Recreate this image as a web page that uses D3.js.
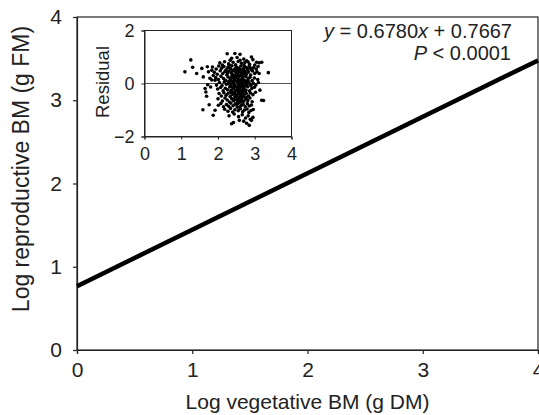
<!DOCTYPE html>
<html>
<head>
<meta charset="utf-8">
<script src="https://cdn.jsdelivr.net/npm/d3@7"></script>
<style>
body { margin: 0; background: #fff; }
text { font-family: "Liberation Sans", Arial, sans-serif; fill: #222; }
</style>
</head>
<body>
<div id="chart"></div>
<script>
// regression fit
var slope = 0.6780;
var intercept = 0.7667;
var lineX = [0, 4];

var mainTicks = [0, 1, 2, 3, 4];
var insetXTicks = [0, 1, 2, 3, 4];
var insetYTicks = [-2, 0, 2];

// residuals: [log vegetative BM, residual]
var residuals = [
	[1.10,0.44],[1.26,0.89],[1.31,0.61],[1.42,0.38],[1.56,0.57],[1.60,0.25],[1.71,0.63],[1.74,0.44],
	[1.83,0.50],[1.78,0.20],[1.92,0.12],[1.72,-0.05],
	[2.25,1.12],[2.46,1.13],[2.60,1.10],[2.37,0.95],[2.91,1.00],[2.52,0.98],[2.70,0.92],[2.33,0.88],
	[2.78,0.86],[2.95,0.90],[3.05,0.80],
	[2.05,0.78],[2.18,0.82],[2.29,0.74],[2.41,0.80],[2.55,0.83],[2.64,0.76],[2.73,0.79],[2.86,0.72],
	[3.00,0.70],[3.12,0.78],[3.19,0.80],[2.12,0.70],[2.48,0.71],[2.60,0.88],[2.82,0.81],
	[1.85,0.62],[1.95,0.55],[2.02,0.66],[2.10,0.58],[2.16,0.64],[2.22,0.52],[2.27,0.61],[2.34,0.56],
	[2.38,0.67],[2.44,0.53],[2.50,0.62],[2.57,0.58],[2.62,0.66],[2.68,0.54],[2.74,0.63],[2.79,0.57],
	[2.85,0.65],[2.91,0.52],[2.97,0.60],[3.04,0.55],[3.09,0.64],[2.31,0.69],[2.53,0.50],[2.71,0.68],[2.88,0.58],
	[1.90,0.42],[1.98,0.35],[2.06,0.48],[2.13,0.38],[2.19,0.45],[2.24,0.33],[2.30,0.47],[2.36,0.40],
	[2.42,0.31],[2.47,0.44],[2.52,0.36],[2.58,0.49],[2.63,0.39],[2.67,0.30],[2.72,0.46],[2.77,0.35],
	[2.83,0.43],[2.89,0.32],[2.94,0.47],[3.00,0.38],[3.06,0.44],[3.12,0.38],[3.37,0.41],[2.40,0.49],
	[2.55,0.42],[2.65,0.47],[2.80,0.50],[2.26,0.40],[2.49,0.33],[2.74,0.39],
	[1.83,0.13],[1.87,0.30],[1.94,0.22],[2.01,0.15],[2.08,0.27],[2.15,0.19],[2.21,0.11],[2.27,0.25],
	[2.33,0.17],[2.38,0.28],[2.44,0.12],[2.50,0.23],[2.55,0.16],[2.60,0.29],[2.66,0.20],[2.71,0.13],
	[2.76,0.26],[2.82,0.18],[2.87,0.24],[2.93,0.11],[2.99,0.21],[3.08,0.15],[2.41,0.21],[2.58,0.10],
	[2.69,0.27],[2.47,0.26],[2.35,0.09],[2.63,0.14],[2.79,0.08],[2.53,0.29],
	[1.80,-0.13],[1.96,-0.06],[2.04,0.04],[2.11,-0.08],[2.17,0.06],[2.23,-0.03],[2.29,0.07],[2.34,-0.09],
	[2.39,0.02],[2.45,-0.05],[2.51,0.08],[2.56,-0.02],[2.61,0.05],[2.67,-0.07],[2.72,0.03],[2.78,-0.04],
	[2.84,0.06],[2.90,-0.08],[2.96,0.01],[3.03,-0.06],[3.10,0.04],[2.48,-0.10],[2.64,-0.01],[2.42,0.06],
	[2.58,-0.08],[2.75,0.09],[2.31,-0.01],[2.87,-0.02],
	[1.65,-0.19],[1.67,-0.32],[1.99,-0.21],[2.07,-0.15],[2.14,-0.28],[2.20,-0.18],[2.26,-0.24],[2.32,-0.13],
	[2.37,-0.29],[2.43,-0.20],[2.49,-0.27],[2.54,-0.14],[2.59,-0.23],[2.65,-0.30],[2.70,-0.17],[2.76,-0.25],
	[2.81,-0.12],[2.86,-0.28],[2.92,-0.19],[3.14,-0.25],[2.40,-0.16],[2.52,-0.22],[2.62,-0.12],[2.73,-0.29],
	[2.35,-0.27],[2.99,-0.14],
	[1.69,-0.48],[2.03,-0.38],[2.09,-0.47],[2.16,-0.35],[2.22,-0.44],[2.28,-0.37],[2.33,-0.49],[2.39,-0.41],
	[2.44,-0.33],[2.50,-0.46],[2.56,-0.39],[2.61,-0.48],[2.66,-0.34],[2.71,-0.43],[2.77,-0.38],[2.83,-0.47],
	[2.88,-0.36],[2.95,-0.42],[3.02,-0.33],[2.47,-0.40],[2.58,-0.31],[2.69,-0.50],[2.36,-0.34],
	[2.00,-0.58],[2.12,-0.66],[2.19,-0.55],[2.25,-0.62],[2.31,-0.70],[2.37,-0.57],[2.42,-0.65],[2.48,-0.53],
	[2.53,-0.68],[2.59,-0.60],[2.64,-0.54],[2.70,-0.67],[2.75,-0.58],[2.81,-0.64],[2.87,-0.55],[2.93,-0.69],
	[3.19,-0.63],[3.24,-0.64],[2.45,-0.59],[2.62,-0.70],[2.78,-0.52],
	[1.76,-0.80],[2.01,-0.82],[2.08,-0.75],[2.15,-0.88],[2.23,-0.79],[2.29,-0.86],[2.35,-0.74],[2.41,-0.84],
	[2.47,-0.77],[2.52,-0.89],[2.57,-0.73],[2.63,-0.83],[2.68,-0.78],[2.74,-0.87],[2.80,-0.76],[2.85,-0.85],
	[2.91,-0.81],[2.58,-0.90],
	[1.59,-0.99],[1.92,-1.01],[2.18,-0.97],[2.27,-1.05],[2.34,-0.94],[2.40,-1.08],[2.46,-0.99],[2.55,-1.03],
	[2.61,-0.95],[2.67,-1.07],[2.72,-1.00],[2.79,-0.96],[2.84,-1.09],[2.90,-1.02],[2.96,-0.98],
	[1.87,-1.20],[2.30,-1.22],[2.44,-1.15],[2.56,-1.25],[2.66,-1.18],[2.75,-1.30],[2.82,-1.22],[2.88,-1.35],
	[2.95,-1.28],[2.37,-1.52],[2.42,-1.47],[2.58,-1.39],[2.70,-1.42],[2.85,-1.58],[2.91,-1.39],[2.78,-1.50],
	[2.39,0.36],[2.51,0.45],[2.57,0.27],[2.62,0.52],[2.68,0.40],[2.45,0.18],[2.54,0.03],[2.66,0.09],
	[2.43,-0.12],[2.55,-0.32],[2.63,-0.42],[2.68,-0.22],[2.46,-0.49],[2.60,-0.15],[2.50,-0.60],[2.57,-0.52],
	[2.73,-0.10],[2.64,0.32],[2.48,0.58],[2.36,0.22],[2.70,0.58],[2.52,-0.78],[2.65,-0.62],[2.40,-0.02]
];

var svg = d3.select("#chart").append("svg")
			.attr("width", 539)
			.attr("height", 415);

// main plot
var xScale = d3.scaleLinear()
				.domain([0, 4])
				.range([77, 538]);

var yScale = d3.scaleLinear()
				.domain([0, 4])
				.range([350, 17]);

svg.append("rect")
	.attr("x", 77)
	.attr("y", 17)
	.attr("width", 461)
	.attr("height", 333)
	.style("fill", "none")
	.style("stroke", "#222")
	.style("stroke-width", 1.2);

var xAxis = svg.append("g")
				.attr("transform", "translate(0,350)")
				.call(d3.axisBottom(xScale).tickValues(mainTicks).tickSize(4).tickPadding(8).tickFormat(d3.format("d")));

var yAxis = svg.append("g")
				.attr("transform", "translate(77,0)")
				.call(d3.axisLeft(yScale).tickValues(mainTicks).tickSize(4).tickPadding(11).tickFormat(d3.format("d")));

[xAxis, yAxis].forEach(function(ax) {
	ax.select(".domain").style("stroke", "#222").style("stroke-width", 1.2);
	ax.selectAll(".tick line").style("stroke", "#222").style("stroke-width", 1.2);
	ax.selectAll("text").style("font-size", "21px").style("fill", "#222")
		.style("font-family", "'Liberation Sans', Arial, sans-serif");
});

svg.append("text")
	.attr("x", 307.5)
	.attr("y", 409)
	.attr("text-anchor", "middle")
	.style("font-size", "21px")
	.text("Log vegetative BM (g DM)");

svg.append("text")
	.attr("transform", "translate(29,169) rotate(-90)")
	.attr("text-anchor", "middle")
	.style("font-size", "23px")
	.text("Log reproductive BM (g FM)");

svg.append("line")
	.attr("x1", xScale(lineX[0]))
	.attr("y1", yScale(intercept + slope * lineX[0]))
	.attr("x2", xScale(lineX[1]))
	.attr("y2", yScale(intercept + slope * lineX[1]))
	.style("stroke", "#000")
	.style("stroke-width", 4.5);

var eq = svg.append("text")
			.attr("x", 512)
			.attr("y", 38)
			.attr("text-anchor", "end")
			.style("font-size", "20px");
eq.append("tspan").style("font-style", "italic").text("y");
eq.append("tspan").text(" = 0.6780");
eq.append("tspan").style("font-style", "italic").text("x");
eq.append("tspan").text(" + 0.7667");

var pv = svg.append("text")
			.attr("x", 511)
			.attr("y", 60)
			.attr("text-anchor", "end")
			.style("font-size", "20px");
pv.append("tspan").style("font-style", "italic").text("P");
pv.append("tspan").text(" < 0.0001");

// inset residual plot
var ixScale = d3.scaleLinear()
				.domain([0, 4])
				.range([144.5, 291.5]);

var iyScale = d3.scaleLinear()
				.domain([-2, 2])
				.range([136.5, 30.5]);

var inset = svg.append("g");

inset.append("line")
	.attr("x1", ixScale(0))
	.attr("x2", ixScale(4))
	.attr("y1", iyScale(0))
	.attr("y2", iyScale(0))
	.style("stroke", "#555")
	.style("stroke-width", 1);

inset.selectAll("circle")
	.data(residuals)
	.enter().append("circle")
		.attr("cx", function(d) {
			return ixScale(d[0]);
		})
		.attr("cy", function(d) {
			return iyScale(d[1]);
		})
		.attr("r", 1.8)
		.style("fill", "#000");

inset.append("rect")
	.attr("x", 144.5)
	.attr("y", 30.5)
	.attr("width", 147)
	.attr("height", 106)
	.style("fill", "none")
	.style("stroke", "#222")
	.style("stroke-width", 1);

var ixAxis = inset.append("g")
				.attr("transform", "translate(0,136.5)")
				.call(d3.axisBottom(ixScale).tickValues(insetXTicks).tickSize(3).tickPadding(8).tickFormat(d3.format("d")));

var iyAxis = inset.append("g")
				.attr("transform", "translate(144.5,0)")
				.call(d3.axisLeft(iyScale).tickValues(insetYTicks).tickSize(3).tickPadding(7)
					.tickFormat(function(d) { return d < 0 ? "\u2212" + Math.abs(d) : d; }));

[ixAxis, iyAxis].forEach(function(ax) {
	ax.select(".domain").style("stroke", "#222");
	ax.selectAll(".tick line").style("stroke", "#222");
	ax.selectAll("text").style("font-size", "18px").style("fill", "#222")
		.style("font-family", "'Liberation Sans', Arial, sans-serif");
});

inset.append("text")
	.attr("transform", "translate(109,82) rotate(-90)")
	.attr("text-anchor", "middle")
	.style("font-size", "18.5px")
	.text("Residual");
</script>
</body>
</html>
